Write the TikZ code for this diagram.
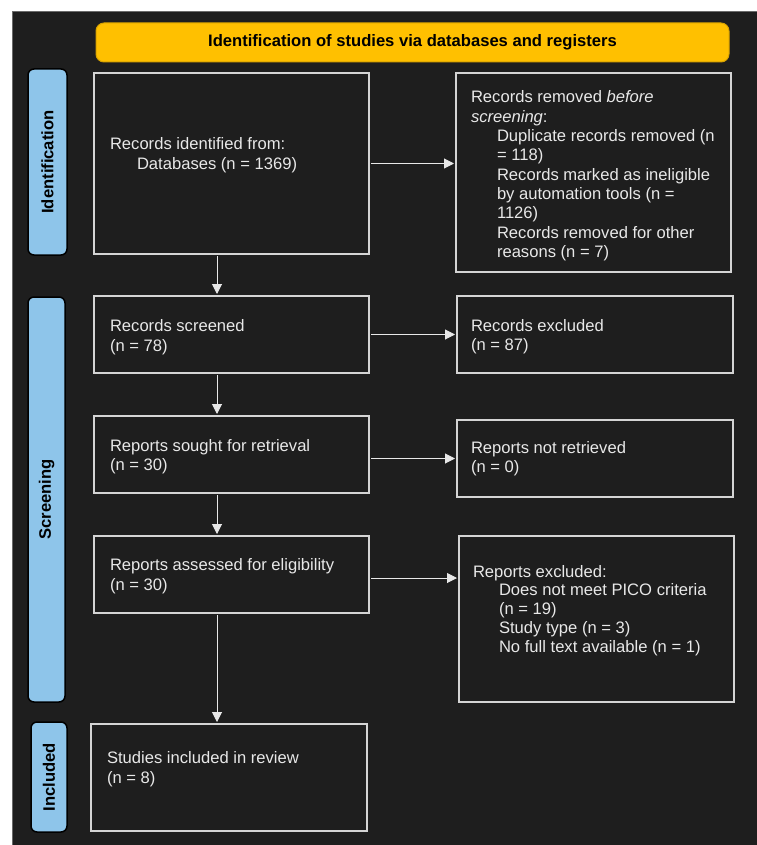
\documentclass[tikz,border=0pt]{standalone}
\usepackage{fontspec}
\setmainfont{Liberation Sans}
\usetikzlibrary{arrows.meta}
\definecolor{bg}{HTML}{1E1E1E}
\definecolor{hdr}{HTML}{FFC000}
\definecolor{hdrline}{HTML}{D9A300}
\definecolor{side}{HTML}{8EC5EA}
\definecolor{boxline}{HTML}{D4D4D4}
\definecolor{fg}{HTML}{E8E8E8}
\definecolor{frameline}{HTML}{6A6A6A}
\begin{document}
\begin{tikzpicture}[x=1pt,y=-1pt,
  every node/.style={inner sep=0pt, outer sep=0pt},
  stagebox/.style={draw=boxline, line width=1.5pt, rectangle},
  lbl/.style={font=\fontsize{16.6}{#1}\selectfont, text=fg, anchor=base west},
  sidebar/.style={draw=black, line width=1.5pt, fill=side, rounded corners=6pt, rotate=90,
    font=\fontsize{16.6}{19.3}\selectfont\bfseries, text=black},
  hdrbox/.style={draw=hdrline, line width=1pt, fill=hdr, rounded corners=8pt,
    font=\fontsize{16.6}{19.3}\selectfont\bfseries, text=black},
  arr/.style={draw=fg, line width=1pt, -{Triangle[width=10pt,length=10pt]},
    shorten <=2pt, shorten >=2pt}
]
\useasboundingbox (0,0) rectangle (756,845);
\fill[white] (0,0) rectangle (756,845);
\draw[fill=bg, draw=frameline, line width=0.8pt] (12.4,11.4) rectangle (757,846);

% header
\node[hdrbox, minimum width=633pt, minimum height=39pt] (hdr) at (412.5,42.5)
  {Identification of studies via databases and registers};

% side bars
\node[sidebar, minimum width=186pt, minimum height=39pt] (barid) at (47.5,162) {Identification};
\node[sidebar, minimum width=405pt, minimum height=37pt] (barsc) at (46.5,499.5) {Screening};
\node[sidebar, minimum width=110pt, minimum height=36pt] (barin) at (49,777) {Included};

% boxes
\node[stagebox, minimum width=275pt, minimum height=181pt] (b1) at (231.5,163.5) {};
\node[stagebox, minimum width=275pt, minimum height=199pt] (rem) at (593.5,172.5) {};
\node[stagebox, minimum width=275pt, minimum height=77pt] (scr) at (231.5,334.5) {};
\node[stagebox, minimum width=276pt, minimum height=77pt] (exc) at (595,334.5) {};
\node[stagebox, minimum width=275pt, minimum height=77pt] (sought) at (231.5,454.5) {};
\node[stagebox, minimum width=276pt, minimum height=77pt] (notret) at (595,458.5) {};
\node[stagebox, minimum width=275pt, minimum height=77pt] (assess) at (231.5,574.5) {};
\node[stagebox, minimum width=275pt, minimum height=166pt] (repexc) at (596.5,619) {};
\node[stagebox, minimum width=276pt, minimum height=107pt] (incl) at (229,777.5) {};

% texts
\node[lbl=20] (t1) at (110,150) {\begin{tabular}[t]{@{}l@{}}Records identified from:\\
  \hspace*{27pt}Databases (n = 1369)\end{tabular}};
\node[lbl=19.3] (trem) at (471,103) {\begin{tabular}[t]{@{}l@{}}Records removed \textit{before}\\
  \textit{screening}:\\
  \hspace*{26pt}Duplicate records removed (n\\
  \hspace*{26pt}= 118)\\
  \hspace*{26pt}Records marked as ineligible\\
  \hspace*{26pt}by automation tools (n =\\
  \hspace*{26pt}1126)\\
  \hspace*{26pt}Records removed for other\\
  \hspace*{26pt}reasons (n = 7)\end{tabular}};
\node[lbl=19.6] (tscr) at (110,331.5) {\begin{tabular}[t]{@{}l@{}}Records screened\\(n = 78)\end{tabular}};
\node[lbl=19.8] (texc) at (471,331) {\begin{tabular}[t]{@{}l@{}}Records excluded\\(n = 87)\end{tabular}};
\node[lbl=19.4] (tsought) at (110,451.5) {\begin{tabular}[t]{@{}l@{}}Reports sought for retrieval\\(n = 30)\end{tabular}};
\node[lbl=19.7] (tnotret) at (471,453) {\begin{tabular}[t]{@{}l@{}}Reports not retrieved\\(n = 0)\end{tabular}};
\node[lbl=20] (tassess) at (110,570) {\begin{tabular}[t]{@{}l@{}}Reports assessed for eligibility\\(n = 30)\end{tabular}};
\node[lbl=18.8] (trepexc) at (473,577) {\begin{tabular}[t]{@{}l@{}}Reports excluded:\\
  \hspace*{26pt}Does not meet PICO criteria\\
  \hspace*{26pt}(n = 19)\\
  \hspace*{26pt}Study type (n = 3)\\
  \hspace*{26pt}No full text available (n = 1)\end{tabular}};
\node[lbl=20] (tincl) at (107,763) {\begin{tabular}[t]{@{}l@{}}Studies included in review\\(n = 8)\end{tabular}};

% connectors
\coordinate (ax) at (217,0);
\draw[arr] (b1.south -| ax) -- (scr.north -| ax);
\draw[arr] (scr.south -| ax) -- (sought.north -| ax);
\draw[arr] (sought.south -| ax) -- (assess.north -| ax);
\draw[arr] (assess.south -| ax) -- (incl.north -| ax);

\draw[arr] (b1.east) -- (b1.east -| rem.west);
\draw[arr] (scr.east) -- (scr.east -| exc.west);
\draw[arr] (sought.east |- notret.west) -- (notret.west);
\draw[arr] ([yshift=-3.5pt]assess.east) -- ([yshift=-3.5pt]assess.east -| repexc.west);
\end{tikzpicture}
\end{document}
